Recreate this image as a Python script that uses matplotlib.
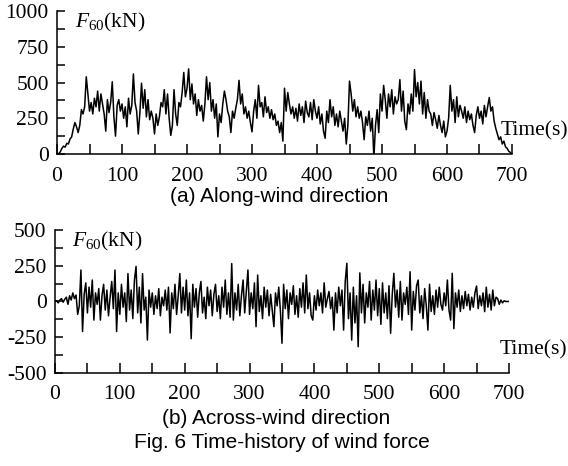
import numpy as np
import matplotlib
matplotlib.use('Agg')
import matplotlib.pyplot as plt
from matplotlib.ticker import MultipleLocator

# time step of the sampled records (s)
dt = 2.5

# along-wind force F60 (kN), one row = 25 s
along = [
    0, 2, 15, 40, 55, 48, 75, 70, 105, 120,
    175, 220, 190, 150, 200, 310, 280, 330, 540, 420,
    300, 360, 280, 390, 330, 440, 300, 420, 350, 280,
    160, 380, 290, 360, 505, 260, 125, 340, 380, 300,
    350, 250, 330, 190, 390, 280, 340, 560, 360, 300,
    140, 290, 495, 320, 450, 260, 380, 240, 300, 250,
    140, 280, 200, 260, 360, 330, 450, 280, 420, 250,
    130, 200, 450, 280, 200, 360, 330, 430, 570, 400,
    460, 595, 380, 490, 350, 420, 270, 380, 300, 340,
    230, 350, 540, 380, 500, 300, 380, 250, 350, 120,
    280, 220, 350, 440, 380, 300, 260, 150, 300, 250,
    320, 380, 515, 350, 420, 280, 330, 250, 300, 220,
    155, 300, 380, 250, 480, 330, 360, 260, 400, 290,
    330, 250, 310, 240, 280, 200, 230, 150, 220, 90,
    460, 300, 430, 350, 280, 330, 250, 320, 230, 350,
    270, 330, 220, 370, 290, 260, 360, 240, 380, 300,
    250, 330, 210, 280, 160, 110, 300, 220, 380, 260,
    330, 200, 280, 190, 300, 230, 160, 250, 70, 200,
    510, 420, 300, 380, 260, 330, 250, 300, 220, 100,
    260, 200, 300, 160, 250, -30, 200, 310, 150, 420,
    300, 480, 380, 250, 420, 330, 450, 280, 400, 350,
    380, 520, 300, 440, 230, 170, 350, 280, 420, 300,
    590, 400, 500, 350, 510, 280, 430, 250, 380, 300,
    280, 200, 290, 240, 180, 270, 200, 150, 230, 120,
    160, 250, 480, 300, 380, 220, 400, 260, 340, 300,
    250, 330, 220, 300, 240, 280, 200, 150, 270, 330,
    250, 300, 210, 340, 260, 330, 395, 300, 330, 230,
    180, 140, 100, 120, 70, 90, 50, 40, 20, 10,
    0,
]

# across-wind force F60 (kN)
across = [
    0, 5, -10, 10, 20, -5, 15, 30, -20, 40,
    10, 60, 20, 45, -90, -30, 220, -210, 50, 130,
    -80, 100, -40, 150, -130, 60, -20, 90, -130, 40,
    120, -60, 80, -100, 30, 140, -50, 220, -210, 60,
    -90, 120, -40, 60, -140, 195, -60, 80, -120, 150,
    245, -80, 100, -150, 195, -60, 30, -270, 80, -40,
    60, -90, 40, -50, 90, -100, 30, -30, 80, -60,
    100, -220, 60, -50, 120, -90, 40, 195, -80, 100,
    -60, 150, -100, 60, -260, 120, -40, 90, -110, 60,
    140, -80, 30, -120, 100, -30, 80, -100, 50, 120,
    -70, 40, -120, 100, -40, 150, -90, 60, -110, 265,
    -130, 60, -60, 120, -100, 40, 150, -80, 70, 220,
    -90, 60, -50, 130, -176, 185, -70, 40, -120, 100,
    -40, 80, -100, 50, -60, -176, 60, -30, 100, -60,
    -292, 120, -50, 80, -120, 60, -20, 110, -90, 40,
    -110, 90, -40, 130, -80, 185, -50, 60, -100, -130,
    40, -60, 80, -30, 60, -80, 130, -40, 20, 70,
    -50, 30, -200, 60, -80, 100, -30, 80, -200, 140,
    267, -120, 60, -270, 100, -150, 40, -316, 200, -80,
    120, -150, 60, -40, 140, -130, 80, -60, 150, -100,
    90, -160, 130, -80, 60, -120, 110, -222, 50, 197,
    -40, 80, -110, 140, -130, 60, -20, 100, -90, 208,
    -200, 70, -60, 110, 150, -80, 40, -120, 90, -30,
    -200, 120, -70, 40, -90, 80, -40, 100, -20, -60,
    60, -30, 150, -60, -130, 197, -190, 60, -40, 80,
    -70, 40, -50, 70, -30, 50, -60, 30, -40, 60,
    108, -50, 40, -30, 60, -71, 100, -40, 50, -60,
    80, -30, 30, 20, -20, 10, -10, 5, 0, 0,
    0,
]

time = np.arange(len(along)) * dt

plt.rcParams['font.family'] = 'Liberation Serif'
plt.rcParams['mathtext.fontset'] = 'custom'
plt.rcParams['mathtext.rm'] = 'Liberation Serif'
plt.rcParams['mathtext.it'] = 'Liberation Serif:italic'
plt.rcParams['axes.unicode_minus'] = False

fig = plt.figure(figsize=(5.68, 4.66), dpi=100)
ax1 = fig.add_axes([0.1004, 0.6695, 0.801, 0.3069])
ax2 = fig.add_axes([0.0968, 0.1996, 0.7993, 0.3069])

fs = 15.5


def style_axis(ax, ylim, ystep):
    ax.set_xlim(0, 700)
    ax.set_ylim(*ylim)
    ax.spines['top'].set_visible(False)
    ax.spines['right'].set_visible(False)
    for s in ('left', 'bottom'):
        ax.spines[s].set_linewidth(1.1)
    ax.xaxis.set_major_locator(MultipleLocator(100))
    ax.xaxis.set_minor_locator(MultipleLocator(50))
    ax.yaxis.set_major_locator(MultipleLocator(ystep))
    ax.yaxis.set_minor_locator(MultipleLocator(ystep / 2))
    ax.tick_params(axis='x', which='both', direction='in', length=7, width=1.1,
                   labelsize=fs, pad=9)
    ax.tick_params(axis='y', which='both', direction='in', length=6, width=1.1,
                   labelsize=fs, pad=6)


# (a) along-wind
ax1.plot(time, along, color='black', lw=1.1)
style_axis(ax1, (0, 1000), 250)
ax1.text(0.04, 0.92, r'$\mathit{F}_{60}$(kN)', transform=ax1.transAxes,
         fontsize=fs, va='center', ha='left')
ax1.text(0.975, 0.16, 'Time(s)', transform=ax1.transAxes,
         fontsize=fs, va='center', ha='left')

# (b) across-wind
ax2.plot(time, across, color='black', lw=1.1)
style_axis(ax2, (-500, 500), 250)
ax2.text(0.038, 0.916, r'$\mathit{F}_{60}$(kN)', transform=ax2.transAxes,
         fontsize=fs, va='center', ha='left')
ax2.text(0.979, 0.161, 'Time(s)', transform=ax2.transAxes,
         fontsize=fs, va='center', ha='left')

# captions
fig.text(279 / 568, 1 - 197 / 466, '(a) Along-wind direction',
         family='Liberation Sans', fontsize=15, ha='center', va='center')
fig.text(276 / 568, 1 - 419 / 466, '(b) Across-wind direction',
         family='Liberation Sans', fontsize=15, ha='center', va='center')
fig.text(282 / 568, 1 - 442 / 466, 'Fig. 6 Time-history of wind force',
         family='Liberation Sans', fontsize=15, ha='center', va='center')

fig.savefig('out.png', dpi=100, facecolor='white')
